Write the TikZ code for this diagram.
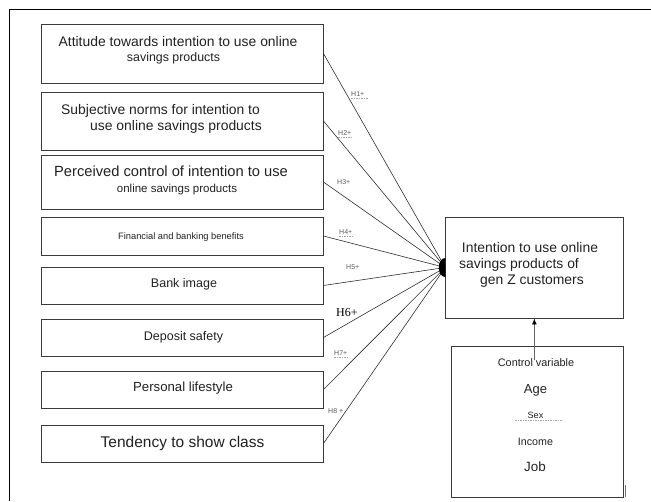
\documentclass[tikz,border=0pt]{standalone}
\usepackage{fontspec}
\setmainfont{Liberation Sans}
\newfontfamily\serifH{Liberation Serif}
\usetikzlibrary{arrows.meta}
\newcommand\setfs[1]{\fontsize{#1}{#1}\selectfont}
\definecolor{boxc}{HTML}{3A3A3A}
\definecolor{linec}{HTML}{2E2E2E}
\definecolor{txtc}{HTML}{222222}
\begin{document}
\begin{tikzpicture}[x=1pt, y=-1pt,
  box/.style={draw=boxc, line width=0.9pt, fill=white, inner sep=0pt},
  lbox/.style={box, minimum width=282pt},
  txt/.style={inner sep=0pt, anchor=base, text=txtc},
  conn/.style={draw=linec, line width=0.6pt},
  hlab/.style={inner sep=0pt, anchor=base west, text=black!65, font=\setfs{7}},
  uline/.style={draw=black!35, line width=0.5pt, dash pattern=on 1.5pt off 1pt},
  arr/.style={draw=black!60, line width=0.9pt, -{Latex[length=6pt,width=5pt,color=black]}}
]
\useasboundingbox (0,0) rectangle (651,501);
% frame
\draw[line width=1pt] (9,501) -- (9,9) -- (651,9);

% left boxes
\node[lbox, minimum height=59pt] (b1) at (182,53.5) {};
\node[lbox, minimum height=58pt] (b2) at (182,121) {};
\node[lbox, minimum height=54pt] (b3) at (182,182) {};
\node[lbox, minimum height=38pt] (b4) at (182,236) {};
\node[lbox, minimum height=37pt] (b5) at (182,285.5) {};
\node[lbox, minimum height=37pt] (b6) at (182,337.5) {};
\node[lbox, minimum height=37pt] (b7) at (182,389.5) {};
\node[lbox, minimum height=37pt] (b8) at (182,443.5) {};

% main and control boxes
\node[box, minimum width=177.3pt, minimum height=101pt] (main) at (534.35,267.5) {};
\node[box, minimum width=171.3pt, minimum height=151pt] (ctrl) at (537.35,421.5) {};

% texts in left boxes
\node[txt, font=\setfs{13.9}] (t1a) at (178,46.7) {Attitude towards intention to use online};
\node[txt, font=\setfs{12.4}] (t1b) at (173.5,61.2) {savings products};
\node[txt, font=\setfs{13.9}] (t2a) at (160.5,114) {Subjective norms for intention to};
\node[txt, font=\setfs{13.9}] (t2b) at (176,130) {use online savings products};
\node[txt, font=\setfs{14.7}] (t3a) at (171,176) {Perceived control of intention to use};
\node[txt, font=\setfs{11.5}] (t3b) at (177,192.1) {online savings products};
\node[txt, font=\setfs{9.3}] (t4) at (181,239.3) {Financial and banking benefits};
\node[txt, font=\setfs{12.5}] (t5) at (184,287.5) {Bank image};
\node[txt, font=\setfs{12.5}] (t6) at (183.5,340.5) {Deposit safety};
\node[txt, font=\setfs{13.2}] (t7) at (183,391.75) {Personal lifestyle};
\node[txt, font=\setfs{15.5}] (t8) at (182.5,447.6) {Tendency to show class};

% texts in main box
\node[txt, font=\setfs{13.9}] (m1) at (530,252) {Intention to use online};
\node[txt, font=\setfs{13.9}] (m2) at (519,268) {savings products of};
\node[txt, font=\setfs{13.9}] (m3) at (532,284) {gen Z customers};

% texts in control box
\node[txt, font=\setfs{10.9}] (c1) at (536,366.6) {Control variable};
\node[txt, font=\setfs{13}] (c2) at (535.5,393.7) {Age};
\node[txt, font=\setfs{9.1}] (c3) at (535.5,418.3) {Sex};
\node[txt, font=\setfs{10.7}] (c4) at (535.5,445.85) {Income};
\node[txt, font=\setfs{13.4}] (c5) at (535,471.8) {Job};
\draw[uline] (515,420.5) -- (562,420.5);

% connectors
\foreach \b in {b1,b2,b3,b4,b5,b6,b7,b8}
  \draw[conn] (\b.east) -- (main.west);
\fill[black] ([yshift=9.5pt]main.west) arc[start angle=90, end angle=270, x radius=6.5pt, y radius=9.5pt] -- cycle;

% hypothesis labels
\node[hlab] (h1) at (351,96.5) {H1+};
\node[hlab] (h2) at (338,135.5) {H2+};
\node[hlab] (h3) at (337,184.5) {H3+};
\node[hlab] (h4) at (339,234.5) {H4+};
\node[hlab] (h5) at (346,269.5) {H5+};
\node[inner sep=0pt, anchor=base west, text=black, font={\serifH\setfs{12}}] (h6) at (336,316.3) {H6+};
\node[hlab] (h7) at (334,355.5) {H7+};
\node[hlab] (h8) at (328,413.5) {H8 +};
\draw[uline] ([yshift=-1.5pt]h1.south west) -- ([yshift=-1.5pt,xshift=4pt]h1.south east);
\draw[uline] ([yshift=-1.5pt]h2.south west) -- ([yshift=-1.5pt]h2.south east);
\draw[uline] ([yshift=-1.5pt]h4.south west) -- ([yshift=-1.5pt]h4.south east);
\draw[uline] ([yshift=-1.5pt]h7.south west) -- ([yshift=-1.5pt]h7.south east);

% control arrow
\coordinate (cvstart) at (534.35,360);
\draw[arr] (cvstart) -- (main.south);

% stray mark at control box corner
\draw[black!55, line width=1pt] ([xshift=2pt,yshift=12pt]ctrl.south east) -- ([xshift=2pt]ctrl.south east);
\end{tikzpicture}
\end{document}
